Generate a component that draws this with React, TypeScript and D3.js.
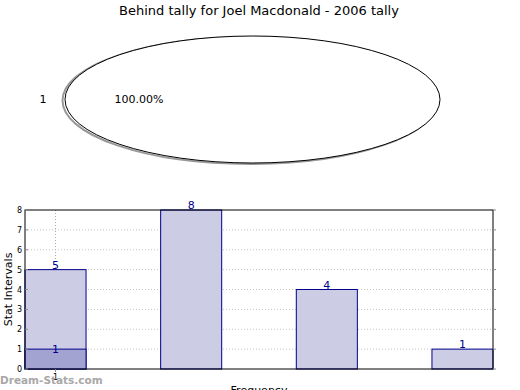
import React from "react";
import * as d3 from "d3";

const title = "Behind tally for Joel Macdonald - 2006 tally";
const pieLabels = ["1"];
const pieValues = [1];

const barValues = [5, 8, 4, 1];
const overlayValues = [1, 0, 0, 0];
const yTicks = [0, 1, 2, 3, 4, 5, 6, 7, 8];
const xTickLabels = ["1"];

const W = 520;
const H = 390;
const plot = { left: 25, right: 493, top: 210, bottom: 369 };
const BAR_W = 0.45;

export default function App() {
  const x = d3.scaleLinear().domain([0, 3 + BAR_W]).range([plot.left, plot.right]);
  const y = d3.scaleLinear().domain([0, 8]).range([plot.bottom, plot.top]);

  const total = d3.sum(pieValues);
  const pie = d3.pie<number>().sort(null)(pieValues);
  const cx = 252.5, cy = 99.5, rx = 187.5, ry = 63.5;

  return (
    <svg width={W} height={H} style={{ position: "absolute", left: 0, top: 0, fontFamily: "DejaVu Sans" }}>
      <rect width={W} height={H} fill="#fff" />
      <text x={259} y={15} textAnchor="middle" fontSize={13}>{title}</text>

      {/* pie, squashed into an ellipse */}
      <ellipse cx={cx - 2.5} cy={cy + 1} rx={rx} ry={ry} fill="none" stroke="#999" strokeWidth={2} />
      {pie.map((p, i) => {
        const arc = d3.arc<any>().innerRadius(0).outerRadius(1);
        const d = p.endAngle - p.startAngle >= 2 * Math.PI - 1e-6 ? null : arc(p);
        return d ? (
          <path key={i} d={d} transform={`translate(${cx},${cy}) scale(${rx},${ry})`} fill="#fff" stroke="#000" vectorEffect="non-scaling-stroke" />
        ) : (
          <ellipse key={i} cx={cx} cy={cy} rx={rx} ry={ry} fill="#fff" stroke="#000" strokeWidth={1} />
        );
      })}
      <text x={43} y={103} textAnchor="middle" fontSize={11}>{pieLabels[0]}</text>
      <text x={139} y={103} textAnchor="middle" fontSize={11}>
        {((pieValues[0] / total) * 100).toFixed(2)}%
      </text>

      {/* grid */}
      {yTicks.slice(1, -1).map((t) => (
        <line key={t} x1={plot.left} x2={plot.right} y1={y(t)} y2={y(t)} stroke="#c4c4c4" strokeDasharray="1,2" />
      ))}
      <line x1={x(BAR_W / 2)} x2={x(BAR_W / 2)} y1={plot.top} y2={plot.bottom} stroke="#aaa" strokeDasharray="1,2" />

      {/* bars */}
      {barValues.map((v, i) => (
        <rect key={i} x={x(i)} y={y(v)} width={x(i + BAR_W) - x(i)} height={y(0) - y(v)} fill="#cccce5" stroke="#00008b" />
      ))}
      {overlayValues.map((v, i) =>
        v > 0 ? (
          <rect key={"o" + i} x={x(i)} y={y(v)} width={x(i + BAR_W) - x(i)} height={y(0) - y(v)} fill="#a3a3d1" stroke="#00008b" />
        ) : null
      )}
      {barValues.map((v, i) => (
        <text key={"l" + i} x={x(i + BAR_W / 2)} y={y(v) - 1} textAnchor="middle" fontSize={11} fill="#00008b">{v}</text>
      ))}
      {overlayValues.map((v, i) =>
        v > 0 ? (
          <text key={"ol" + i} x={x(i + BAR_W / 2)} y={y(v) + 4} textAnchor="middle" fontSize={11} fill="#00008b">{v}</text>
        ) : null
      )}

      {/* frame & ticks */}
      <rect x={plot.left} y={plot.top} width={plot.right - plot.left} height={plot.bottom - plot.top} fill="none" stroke="#000" />
      {yTicks.map((t) => (
        <g key={t}>
          <line x1={plot.left} x2={plot.left + 3} y1={y(t)} y2={y(t)} stroke="#888" />
          <line x1={plot.right} x2={plot.right + 3} y1={y(t)} y2={y(t)} stroke="#888" />
          <text x={22} y={y(t) + 3} textAnchor="end" fontSize={8}>{t}</text>
        </g>
      ))}
      <line x1={x(BAR_W / 2)} x2={x(BAR_W / 2)} y1={plot.bottom} y2={plot.bottom + 3} stroke="#888" />
      <text x={x(BAR_W / 2)} y={380} textAnchor="middle" fontSize={8}>{xTickLabels[0]}</text>

      <text transform={`translate(12,${(plot.top + plot.bottom) / 2}) rotate(-90)`} textAnchor="middle" fontSize={11}>Stat Intervals</text>
      <text x={259} y={394} textAnchor="middle" fontSize={11}>Frequency</text>

      <text x={0} y={384} fontSize={10.5} fontWeight="bold" fill="#999" opacity={0.85}>Dream-Stats.com</text>
    </svg>
  );
}
